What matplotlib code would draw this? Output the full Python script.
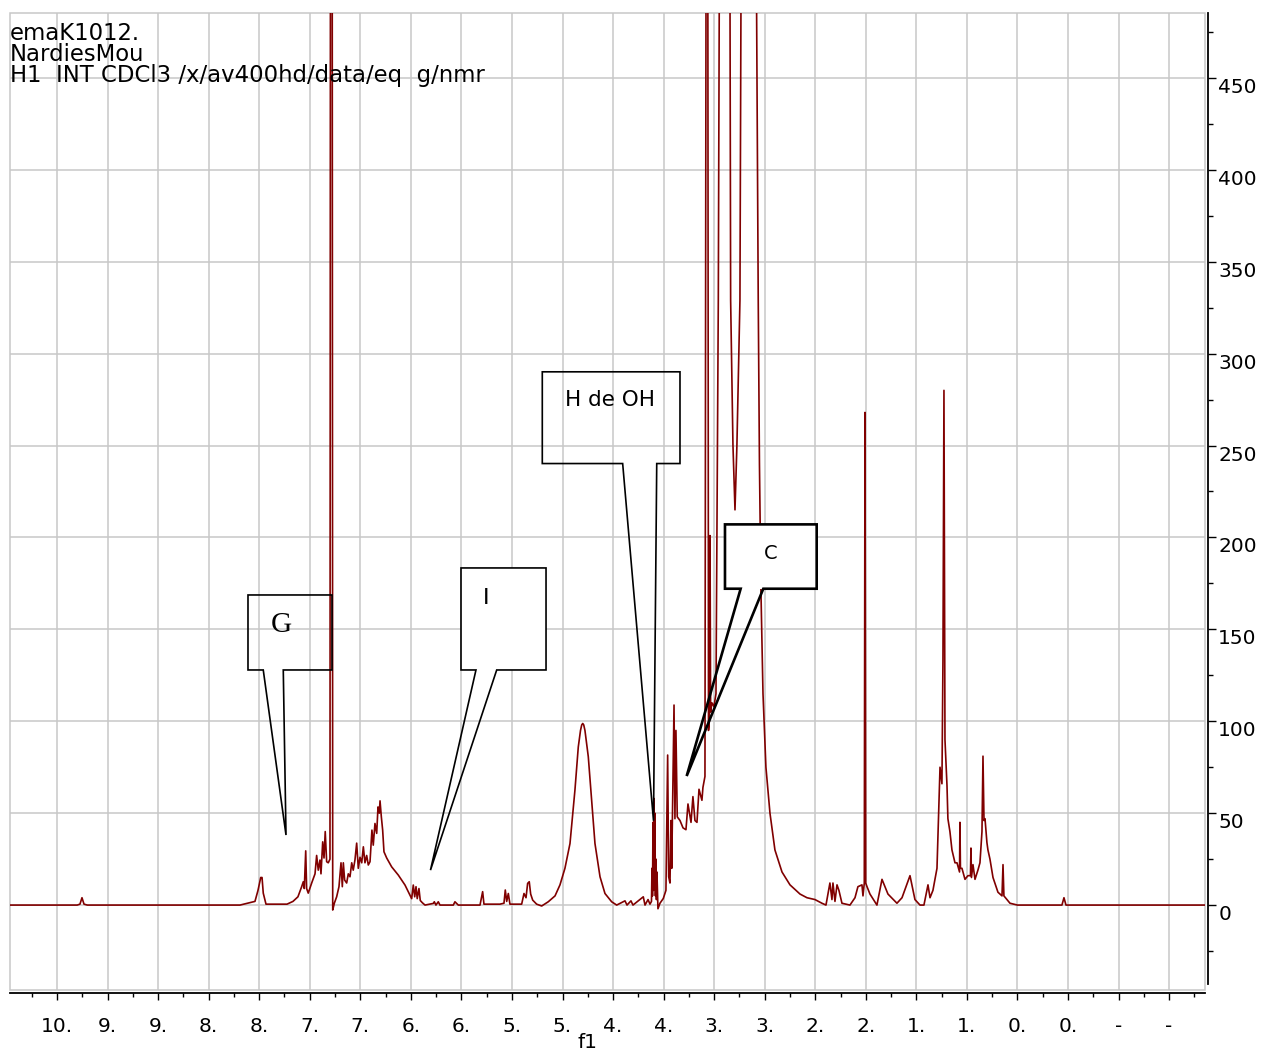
import numpy as np
import matplotlib
matplotlib.use('Agg')
import matplotlib.pyplot as plt
from matplotlib.patches import Polygon, Rectangle
from matplotlib.ticker import MultipleLocator

# 1H spectrum: shift (ppm) and intensity
shift_ppm = [
    10.465, 9.80, 9.773, 9.753, 9.733, 9.70,
    # aromatic / CHCl3
    8.19, 8.042, 8.012, 7.985, 7.972, 7.960, 7.933, 7.725, 7.666, 7.617,
    7.580, 7.564, 7.554, 7.540, 7.531, 7.515, 7.481, 7.448, 7.432, 7.416,
    7.399, 7.389, 7.372, 7.359, 7.347, 7.333, 7.317, 7.300, 7.287, 7.273,
    7.257, 7.234, 7.211, 7.191, 7.178, 7.168, 7.155, 7.135, 7.119, 7.102,
    7.085, 7.070, 7.053, 7.036, 7.020, 7.003, 6.986, 6.970, 6.954, 6.937,
    6.921, 6.904, 6.885, 6.872, 6.855, 6.838, 6.825, 6.812, 6.805, 6.792,
    6.779, 6.766, 6.739, 6.690, 6.624, 6.558, 6.509, 6.492, 6.476, 6.462,
    6.449, 6.437, 6.420, 6.407, 6.387, 6.360,
    # 6.3 - 5.0
    6.278, 6.268, 6.252, 6.229, 6.212, 6.08, 6.064, 6.031, 5.816, 5.790,
    5.777, 5.619, 5.579, 5.566, 5.552, 5.536, 5.520, 5.404, 5.381, 5.361,
    5.345, 5.329, 5.315, 5.295, 5.256, 5.206, 5.141, 5.074, 5.025,
    # broad 4.8 peak
    4.976, 4.926, 4.877, 4.844, 4.822, 4.810, 4.800, 4.790, 4.778, 4.762,
    4.745, 4.712, 4.679, 4.629, 4.580, 4.514, 4.464, 4.382, 4.362, 4.323,
    4.303, 4.201, 4.184, 4.154, 4.135,
    # OH multiplet and 3.9 - 3.6 region
    4.120, 4.115, 4.110, 4.105, 4.100, 4.095, 4.090, 4.086, 4.081, 4.076,
    4.071, 4.066, 4.056, 4.036, 4.003, 3.977, 3.960, 3.950, 3.937, 3.927,
    3.920, 3.897, 3.888, 3.878, 3.865, 3.838, 3.808, 3.779, 3.759, 3.729,
    3.710, 3.690, 3.670, 3.650, 3.621, 3.611, 3.591,
    # big off-scale peaks
    3.578, 3.571, 3.564, 3.556, 3.548, 3.541, 3.535, 3.522, 3.502, 3.482,
    3.459, 3.450, 3.403, 3.343, 3.337, 3.314, 3.294, 3.275, 3.245, 3.235,
    3.156, 3.080, 3.064, 3.052, 3.037, 3.017, 2.988, 2.948, 2.899, 2.829,
    2.750, 2.651, 2.582, 2.503, 2.434, 2.394,
    # aliphatic
    2.355, 2.335, 2.325, 2.305, 2.285, 2.266, 2.236, 2.157, 2.107, 2.078,
    2.038, 2.028, 2.015, 2.008, 2.001, 1.988, 1.959, 1.890, 1.840, 1.811,
    1.781, 1.692, 1.642, 1.563, 1.514, 1.464, 1.425, 1.385, 1.365, 1.336,
    1.296, 1.266, 1.247, 1.237, 1.227, 1.217, 1.197, 1.188, 1.168, 1.148,
    1.118, 1.098, 1.073, 1.069, 1.064, 1.049, 1.019, 0.990, 0.965, 0.960,
    0.955, 0.940, 0.920, 0.891, 0.871, 0.851, 0.841, 0.831, 0.821, 0.802,
    0.792, 0.772, 0.742, 0.693, 0.653, 0.643, 0.634, 0.574, 0.50,
    0.060, 0.040, 0.020, -1.355,
]
intensity = [
    0, 0, 0.5, 4, 0.5, 0,
    0, 2, 8, 15, 15, 6.5, 0.5, 0.5, 2, 4.5,
    10, 12.7, 9, 29.5, 9, 6.5, 12, 17, 27, 19,
    24.5, 17, 34.4, 25.6, 40, 23.6, 23, 25, 1500, -2.7,
    1, 4.5, 10, 23, 10, 23, 13.6, 12, 17, 15.4,
    23, 19, 24.5, 33.7, 20, 26, 23, 31.7, 23, 27,
    21.8, 23.6, 40.8, 32.6, 44.4, 39, 53.4, 50, 56.7, 48,
    40.8, 29, 25.6, 20.8, 16.3, 10.9, 5.4, 3.5, 10.9, 4.5,
    10, 3.5, 9, 2.5, 1.3, 0,
    0.9, 1.8, 0, 1.8, 0, 0, 1.8, 0, 0, 7.3,
    0.5, 0.5, 1, 8.2, 2, 6.3, 0.5, 0.5, 6.3, 4,
    11.8, 12.7, 6, 2.7, 0.5, -0.5, 1.8, 5, 11,
    20, 33.5, 62.6, 86, 95, 98, 98.8, 98, 95, 88,
    80.7, 57, 33.5, 15.4, 6.3, 1.8, 0, 2.3, 0, 2.3,
    0, 4.5, 0, 3, 0.5,
    2, 20, 5, 45, 8, 58, 10, 50, 5, 25,
    3, 18, -2, 1, 3.6, 8, 81.6, 15.4, 12, 46,
    20, 108.8, 47, 95, 48, 46, 42, 41, 55, 45,
    59, 46, 45, 63, 57, 64, 70,
    600, 1500, 600, 95, 100, 201, 105, 110, 108, 115,
    329, 485, 1200, 485, 329, 250, 215, 250, 329, 485,
    2500, 485, 329, 240, 170, 115, 75, 50, 30, 18,
    11, 6, 4, 3, 1, 0,
    12, 3, 12, 2, 11, 8, 1, 0, 4, 10,
    11, 5, 12, 268, 12, 10, 6, 0, 14, 10,
    6, 1, 4, 16, 3, 0, 0, 11, 4, 8,
    20, 75, 66, 133, 280, 90, 65, 47, 40, 30,
    23, 23, 18, 45, 20, 20, 14, 16, 16, 31,
    15, 22, 14, 19, 23, 40, 81, 46, 47, 34,
    30, 25, 15, 7, 5, 22, 5, 1, 0,
    0, 4, 0, 0,
]

xticks = np.arange(10.0, -1.01, -0.5)
xlabels = ['10.', '9.', '9.', '8.', '8.', '7.', '7.', '6.', '6.', '5.', '5.', '4.',
           '4.', '3.', '3.', '2.', '2.', '1.', '1.', '0.', '0.', '-', '-']
yticks = np.arange(0, 451, 50)
ylabels = ['0', '50', '100', '150', '200', '250', '300', '350', '400', '450']

header = ['emaK1012.', 'NardiesMou', 'H1  INT CDCl3 /x/av400hd/data/eq  g/nmr']

# callouts: box (left, right, top, bottom), tail base, tip, text position
call_text = ['G', 'I', 'H de OH', 'C']
box_left = [8.111, 6.004, 5.200, 3.393]
box_right = [7.280, 5.163, 3.838, 2.486]
box_top = [168.7, 183.4, 290.1, 207.1]
box_bottom = [127.9, 127.9, 240.2, 172.1]
tail_left = [7.960, 5.856, 4.405, 3.238]
tail_right = [7.762, 5.651, 4.068, 3.014]
tip_ppm = [7.735, 6.306, 4.100, 3.772]
tip_int = [38.1, 19.0, 45.9, 70.2]
text_ppm = [7.785, 5.757, 4.531, 2.941]
text_int = [152.3, 167.0, 274.8, 191.5]

W, H = 1264, 1050
fig = plt.figure(figsize=(W / 100, H / 100), dpi=100)
ax = fig.add_axes([10 / W, 60 / H, 1195 / W, 977 / H])
ax.set_xlim(10.465, -1.355)
ax.set_ylim(-46.2, 485.3)

grey = '#c8c8c8'
ax.grid(True, which='major', color=grey, lw=1.1)
ax.set_axisbelow(True)
ax.add_patch(Rectangle((0, 0), 1, 1, transform=ax.transAxes, fill=False,
                       ec=grey, lw=1.1, clip_on=False, zorder=1))

ax.plot(shift_ppm, intensity, color='#800000', lw=1.2, zorder=3)

# axes: bottom and right only
ax.spines['left'].set_visible(False)
ax.spines['top'].set_visible(False)
ax.spines['bottom'].set_position(('outward', 2.2))
ax.spines['right'].set_position(('outward', 2.5))
ax.spines['bottom'].set_linewidth(1.3)
ax.spines['right'].set_linewidth(1.3)
ax.spines['right'].set_bounds(-43, 485.3)

ax.yaxis.tick_right()
ax.set_yticks(yticks)
ax.set_yticklabels(ylabels, fontsize=14.5, va='top')
ax.yaxis.set_minor_locator(MultipleLocator(25))
ax.tick_params(axis='y', which='major', direction='out', length=6, width=1, pad=1)
ax.tick_params(axis='y', which='minor', direction='out', length=3.5, width=1)

ax.set_xticks(xticks)
ax.set_xticklabels(xlabels, fontsize=14.5)
ax.xaxis.set_minor_locator(MultipleLocator(0.25))
ax.tick_params(axis='x', which='major', direction='out', length=5, width=1, pad=12)
ax.tick_params(axis='x', which='minor', direction='out', length=3, width=1)

fig.text(587 / W, 1 - 1042 / H, 'f1', ha='center', va='center', fontsize=14.5)

for i, line in enumerate(header):
    fig.text(10 / W, 1 - (40 + 21 * i) / H, line, ha='left', va='baseline',
             fontsize=16.4)

# callout boxes
for i, lab in enumerate(call_text):
    pts = [(tail_left[i], box_bottom[i]), (box_left[i], box_bottom[i]),
           (box_left[i], box_top[i]), (box_right[i], box_top[i]),
           (box_right[i], box_bottom[i]), (tail_right[i], box_bottom[i]),
           (tip_ppm[i], tip_int[i])]
    filled = lab in ('I', 'C')
    lw = 1.9 if lab == 'C' else 1.2
    if filled:
        ax.add_patch(Rectangle((box_left[i], box_bottom[i]),
                               box_right[i] - box_left[i], box_top[i] - box_bottom[i],
                               fc='white', ec='none', zorder=4))
    ax.add_patch(Polygon(pts, closed=True, fill=False, ec='black', lw=lw,
                         joinstyle='miter', zorder=5))
    if lab == 'G':
        ax.text(text_ppm[i], text_int[i], lab, ha='center', va='center',
                fontsize=21, family='Liberation Serif', zorder=6)
    else:
        fs = {'I': 16, 'H de OH': 15.5, 'C': 14}[lab]
        ax.text(text_ppm[i], text_int[i], lab, ha='center', va='center',
                fontsize=fs, zorder=6)

fig.savefig('out.png', dpi=100)
